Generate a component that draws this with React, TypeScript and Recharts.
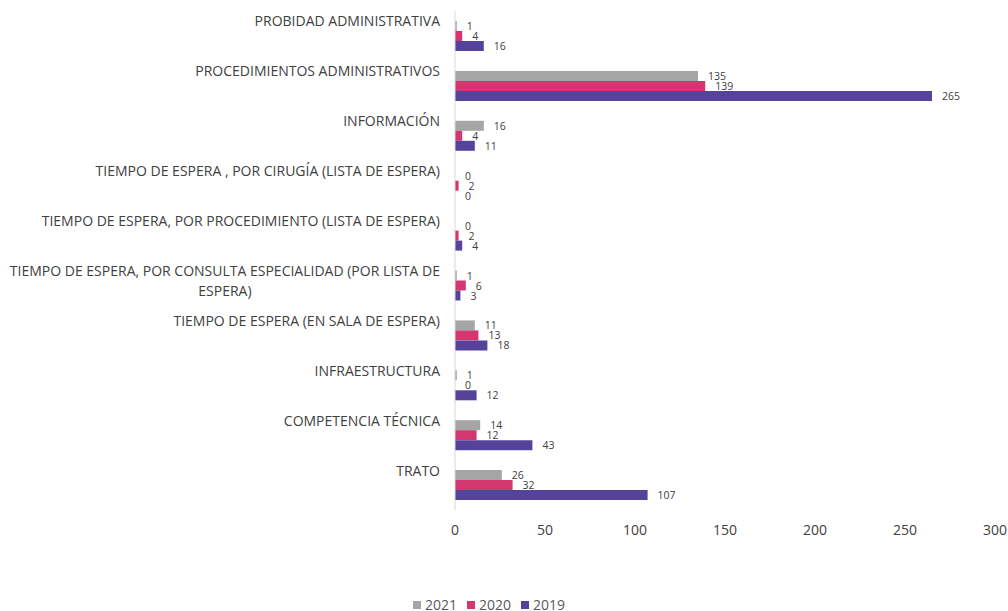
import React from "react";
import { BarChart, Bar, XAxis, YAxis, LabelList } from "recharts";

const categories = [
  "PROBIDAD ADMINISTRATIVA",
  "PROCEDIMIENTOS ADMINISTRATIVOS",
  "INFORMACIÓN",
  "TIEMPO DE ESPERA , POR CIRUGÍA (LISTA DE ESPERA)",
  "TIEMPO DE ESPERA, POR PROCEDIMIENTO (LISTA DE ESPERA)",
  "TIEMPO DE ESPERA, POR CONSULTA ESPECIALIDAD (POR LISTA DE ESPERA)",
  "TIEMPO DE ESPERA (EN SALA DE ESPERA)",
  "INFRAESTRUCTURA",
  "COMPETENCIA TÉCNICA",
  "TRATO",
];
const values2021 = [1, 135, 16, 0, 0, 1, 11, 1, 14, 26];
const values2020 = [4, 139, 4, 2, 2, 6, 13, 0, 12, 32];
const values2019 = [16, 265, 11, 0, 4, 3, 18, 12, 43, 107];
const xTicks = [0, 50, 100, 150, 200, 250, 300];
const seriesNames = ["2021", "2020", "2019"];
const colors = ["#A5A5A5", "#D4376F", "#55439B"];

const data = categories.map((name, i) => ({
  name,
  "2021": values2021[i],
  "2020": values2020[i],
  "2019": values2019[i],
}));

const FONT = "'Open Sans', 'Noto Sans', sans-serif";
const LABEL_SIZE = 14;

let ctx: CanvasRenderingContext2D | null = null;
function measure(t: string): number {
  if (!ctx) {
    const c = document.createElement("canvas");
    ctx = c.getContext("2d");
  }
  if (!ctx) return t.length * 8;
  ctx.font = `${LABEL_SIZE}px 'Open Sans'`;
  return ctx.measureText(t).width;
}

function wrap(text: string, maxW: number): string[] {
  const words = text.split(" ");
  const lines: string[] = [];
  let cur = "";
  for (const w of words) {
    const next = cur ? cur + " " + w : w;
    if (measure(next) > maxW && cur) {
      lines.push(cur);
      cur = w;
    } else cur = next;
  }
  if (cur) lines.push(cur);
  return lines;
}

const CategoryTick = (props: any) => {
  const { x, y, payload } = props;
  const lines = wrap(String(payload.value), 440);
  if (lines.length === 1) {
    return (
      <text x={x} y={y - 15} textAnchor="end" dominantBaseline="central" fontSize={LABEL_SIZE} fontFamily={FONT} fill="#404040">
        {lines[0]}
      </text>
    );
  }
  const maxW = Math.max(...lines.map(measure));
  const cx = x - maxW / 2;
  return (
    <g>
      {lines.map((l, i) => (
        <text key={i} x={cx} y={y - 15 + i * 20} textAnchor="middle" dominantBaseline="central" fontSize={LABEL_SIZE} fontFamily={FONT} fill="#404040">
          {l}
        </text>
      ))}
    </g>
  );
};

const ValueLabel = (props: any) => {
  const { x, y, width, height, value } = props;
  return (
    <text x={x + width + 10} y={y + height / 2} dominantBaseline="central" fontSize={10.5} fontFamily={FONT} fill="#404040">
      {value}
    </text>
  );
};

export default function App() {
  return (
    <div style={{ position: "absolute", left: 0, top: 0, width: 1008, height: 611, overflow: "hidden", background: "#fff" }}>
      <BarChart
        width={1008}
        height={611}
        data={data}
        layout="vertical"
        margin={{ top: 11, right: 13, left: 0, bottom: 71 }}
        barGap={0}
        barSize={10}
        style={{ overflow: "visible" }}
      >
        <XAxis
          type="number"
          domain={[0, 300]}
          ticks={xTicks}
          axisLine={false}
          tickLine={false}
          tickSize={0}
          tickMargin={15}
          height={30}
          tick={{ fontSize: 14, fill: "#404040", fontFamily: FONT }}
        />
        <YAxis
          type="category"
          dataKey="name"
          width={455}
          axisLine={{ stroke: "#D9D9D9" }}
          tickLine={false}
          tickSize={0}
          tickMargin={15}
          interval={0}
          tick={<CategoryTick />}
        />
        {seriesNames.map((s, i) => (
          <Bar key={s} dataKey={s} fill={colors[i]} minPointSize={0.01} isAnimationActive={false}>
            <LabelList dataKey={s} content={<ValueLabel />} />
          </Bar>
        ))}
      </BarChart>
      <div
        style={{
          position: "absolute",
          left: 0,
          width: 988,
          top: 596,
          display: "flex",
          justifyContent: "center",
          alignItems: "center",
          fontFamily: FONT,
          fontSize: 14,
          color: "#595959",
          lineHeight: "18px",
        }}
      >
        {seriesNames.map((s, i) => (
          <span key={s} style={{ display: "inline-flex", alignItems: "center", marginRight: 10 }}>
            <span style={{ display: "inline-block", width: 8, height: 8, background: colors[i], marginRight: 4 }} />
            {s}
          </span>
        ))}
      </div>
    </div>
  );
}
